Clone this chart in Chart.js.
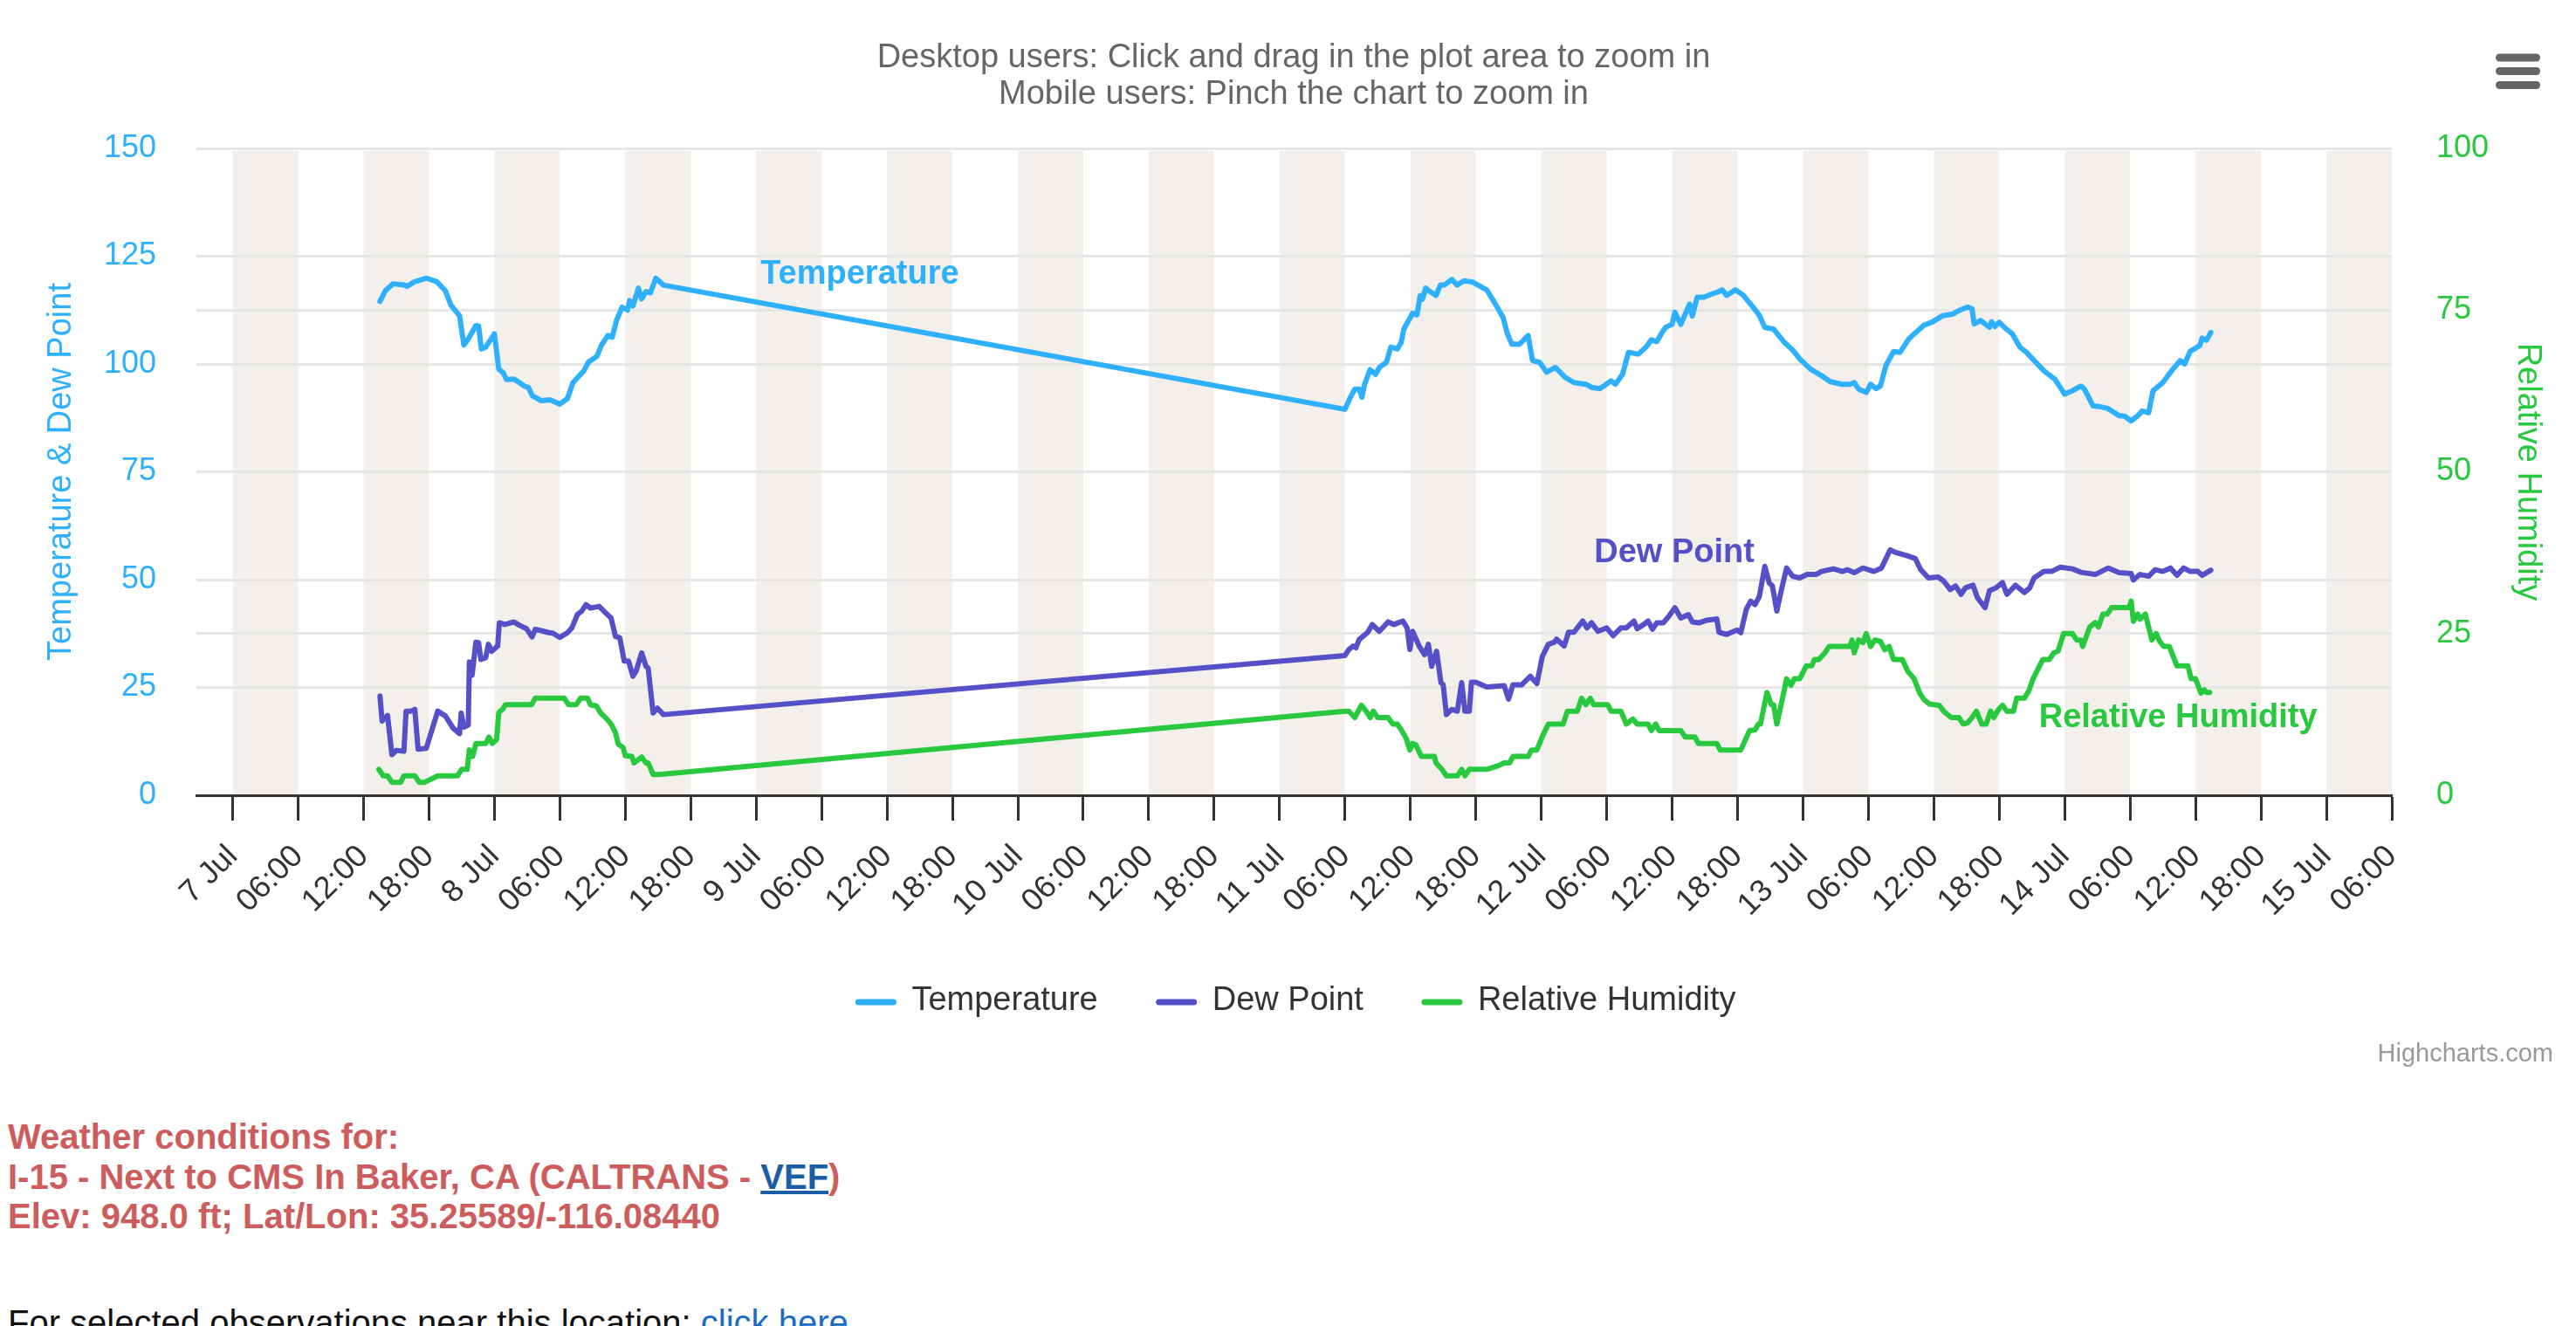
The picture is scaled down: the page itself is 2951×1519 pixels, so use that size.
<!DOCTYPE html>
<html>
<head>
<meta charset="utf-8">
<title>Weather conditions - I-15 Baker, CA</title>
<script src="https://cdn.jsdelivr.net/npm/chart.js@4.4.1/dist/chart.umd.min.js"></script>
<style>
  html, body { margin: 0; padding: 0; background: #fff; overflow: hidden; }
  body { width: 2951px; height: 1519px; position: relative; font-family: "Liberation Sans", Arial, Helvetica, sans-serif; }
  #chart-wrap { position: absolute; left: 0; top: 0; width: 2951px; height: 1250px; }
  .station { position: absolute; left: 9px; top: 1280px; font-size: 40px; line-height: 45.5px; font-weight: bold; color: #cd5c5c; white-space: nowrap; }
  .station a { color: #1a5ea8; text-decoration: underline; }
  .nearby { position: absolute; left: 9px; top: 1493px; font-size: 40px; line-height: 45.5px; color: #111; white-space: nowrap; }
  .nearby a { color: #1a6cc8; text-decoration: none; }
</style>
</head>
<body>
<div id="chart-wrap"><canvas id="weatherChart" width="2951" height="1250"></canvas></div>
<div class="station">Weather conditions for:<br>I-15 - Next to CMS In Baker, CA (CALTRANS - <a href="#">VEF</a>)<br>Elev: 948.0 ft; Lat/Lon: 35.25589/-116.08440</div>
<div class="nearby">For selected observations near this location: <a href="#">click here</a></div>
<script>
// x values are hours counted from 7 Jul 00:00

// Temperature (left axis)
const tempHours = [
  13.5, 14.0, 14.7, 15.75, 16.0, 16.6, 17.75, 18.7, 19.5, 20.0,
  20.8, 21.2, 21.6, 22.3, 22.55, 22.8, 23.2, 24.0, 24.4, 24.8,
  25.1, 25.8, 26.8, 27.1, 27.5, 28.3, 29.1, 30.0, 30.7, 31.2,
  32.2, 32.6, 33.4, 33.8, 34.4, 34.8, 35.2, 35.7, 36.2, 36.4,
  36.7, 37.2, 37.5, 37.9, 38.3, 38.8, 39.5, 102.0, 102.5, 102.9,
  103.3, 103.55, 103.8, 104.3, 104.8, 105.15, 105.8, 106.2, 106.8, 107.15,
  107.4, 108.2, 108.6, 108.9, 109.1, 109.4, 109.8, 110.35, 110.75, 111.1,
  111.8, 112.3, 112.9, 113.7, 114.2, 115.0, 115.7, 116.5, 116.9, 117.3,
  118.0, 118.8, 119.2, 119.85, 120.5, 121.3, 122.2, 123.0, 124.1, 124.6,
  125.4, 126.4, 126.8, 127.45, 128.0, 128.9, 129.6, 130.1, 130.6, 131.0,
  131.4, 132.0, 132.25, 132.8, 133.6, 133.85, 134.3, 134.9, 135.6, 136.1,
  136.6, 137.0, 137.8, 138.5, 139.3, 140.0, 140.5, 141.3, 142.3, 143.1,
  143.7, 144.7, 145.7, 146.5, 147.6, 148.3, 148.7, 149.1, 149.8, 150.2,
  150.7, 151.1, 151.6, 152.3, 152.9, 153.7, 154.2, 155.1, 155.9, 156.8,
  157.75, 158.3, 159.1, 159.5, 159.7, 160.3, 161.1, 161.3, 161.6, 162.0,
  162.55, 163.2, 163.9, 164.5, 165.2, 166.1, 167.1, 168.0, 168.7, 169.5,
  169.8, 170.6, 171.05, 171.95, 173.0, 173.5, 174.1, 174.7, 175.1, 175.7,
  176.1, 177.0, 177.8, 178.6, 179.0, 179.5, 180.4, 180.6, 181.0, 181.4
];
const tempValues = [
  114.5, 117.0, 118.6, 118.3, 118.0, 119.0, 119.9, 119.1, 117.0, 113.7,
  111.2, 104.4, 105.8, 108.9, 108.8, 103.5, 103.9, 107.0, 98.8, 98.0,
  96.4, 96.5, 94.8, 94.6, 92.6, 91.5, 91.7, 90.7, 92.0, 95.7,
  98.4, 100.4, 101.8, 104.3, 106.6, 106.2, 110.1, 113.2, 112.5, 114.7,
  113.5, 117.6, 115.1, 116.8, 116.5, 119.9, 118.3, 89.5, 92.3, 94.2,
  94.2, 92.3, 95.3, 98.7, 97.6, 99.2, 100.4, 103.9, 103.5, 105.0,
  108.1, 111.8, 111.4, 115.9, 115.0, 117.6, 116.8, 115.9, 118.3, 118.3,
  119.6, 118.3, 119.3, 119.0, 118.3, 117.2, 114.3, 110.8, 107.0, 104.6,
  104.6, 106.6, 100.8, 100.4, 98.1, 99.2, 96.9, 95.7, 95.3, 94.6,
  94.3, 96.1, 95.3, 97.6, 102.7, 102.3, 103.9, 105.6, 105.2, 107.0,
  108.5, 109.2, 112.0, 109.2, 113.9, 111.1, 115.5, 115.5, 116.2, 116.6,
  117.2, 115.9, 117.2, 116.0, 113.6, 111.3, 108.5, 108.1, 105.0, 103.1,
  101.2, 98.8, 97.3, 95.9, 95.3, 95.3, 95.7, 94.2, 93.4, 95.3,
  94.3, 94.9, 99.6, 102.9, 102.7, 105.8, 107.0, 109.0, 109.8, 111.2,
  111.6, 112.4, 113.2, 112.8, 109.3, 110.1, 108.5, 109.8, 108.7, 109.7,
  108.3, 107.0, 103.9, 102.7, 100.8, 98.4, 96.5, 93.0, 93.8, 94.9,
  94.2, 90.3, 90.2, 89.7, 88.0, 87.9, 86.8, 88.0, 89.1, 88.7,
  93.8, 95.7, 98.4, 100.8, 100.0, 102.9, 104.3, 106.0, 105.5, 107.3
];

// Dew point (left axis)
const dewHours = [
  13.5, 13.7, 14.2, 14.6, 15.0, 15.7, 15.9, 16.3, 16.7, 17.0,
  17.75, 18.8, 19.5, 20.2, 20.8, 20.95, 21.2, 21.6, 21.7, 21.95,
  22.3, 22.55, 22.75, 23.2, 23.45, 23.75, 24.3, 24.45, 24.95, 25.8,
  26.3, 26.95, 27.45, 27.75, 28.4, 29.0, 29.35, 30.0, 30.7, 31.1,
  31.6, 32.0, 32.4, 32.8, 33.6, 34.2, 34.7, 35.1, 35.5, 35.9,
  36.3, 36.7, 37.0, 37.5, 37.9, 38.1, 38.55, 38.95, 39.5, 102.0,
  102.35, 102.75, 103.0, 103.3, 104.1, 104.5, 105.15, 105.95, 106.5, 106.9,
  107.3, 107.7, 107.95, 108.2, 108.8, 109.3, 109.65, 109.95, 110.4, 110.8,
  111.0, 111.3, 111.8, 112.3, 112.7, 113.0, 113.4, 113.6, 114.0, 115.0,
  116.6, 117.0, 117.4, 118.2, 119.0, 119.6, 120.1, 120.65, 121.2, 121.4,
  122.1, 122.5, 123.0, 123.8, 124.2, 124.6, 125.2, 126.0, 126.6, 127.3,
  127.8, 128.5, 128.8, 129.4, 129.8, 130.2, 130.6, 131.2, 131.7, 132.25,
  132.8, 133.5, 133.85, 134.5, 135.2, 136.1, 136.3, 137.0, 137.95, 138.3,
  138.8, 139.2, 139.6, 140.0, 140.5, 140.9, 141.2, 141.6, 142.0, 142.5,
  143.05, 143.7, 144.4, 145.2, 145.7, 146.8, 147.6, 148.1, 148.7, 149.5,
  150.5, 151.2, 152.0, 152.5, 153.5, 154.3, 154.8, 155.5, 156.4, 156.9,
  157.5, 158.0, 158.5, 158.9, 159.6, 160.0, 160.7, 161.1, 161.7, 162.3,
  162.7, 163.5, 164.3, 164.8, 165.2, 166.1, 166.8, 167.6, 168.7, 169.5,
  170.8, 172.0, 173.0, 174.1, 174.3, 174.9, 175.7, 176.3, 177.0, 177.7,
  178.3, 178.9, 179.5, 180.2, 180.6, 181.0, 181.4
];
const dewValues = [
  23.0, 17.2, 18.5, 9.4, 10.4, 10.2, 19.5, 19.5, 19.9, 10.7,
  10.9, 19.5, 18.4, 15.6, 14.3, 19.1, 15.8, 16.3, 30.9, 27.8,
  35.5, 35.4, 31.5, 31.9, 35.0, 33.4, 34.6, 40.0, 39.6, 40.2,
  39.4, 38.6, 36.7, 38.5, 38.1, 37.7, 37.6, 36.6, 37.7, 38.8,
  41.9, 42.7, 44.2, 43.4, 43.8, 42.3, 41.1, 36.8, 36.5, 31.1,
  31.1, 27.6, 28.8, 33.0, 29.9, 29.5, 19.1, 20.2, 18.7, 32.4,
  33.8, 34.6, 34.2, 36.1, 37.8, 39.6, 38.0, 40.2, 39.6, 40.0,
  40.4, 38.8, 33.8, 38.0, 34.6, 32.6, 35.0, 29.9, 33.4, 26.1,
  25.7, 18.7, 19.9, 19.5, 26.1, 19.5, 19.5, 26.2, 26.2, 25.1,
  25.4, 22.3, 25.6, 25.6, 27.6, 25.9, 32.2, 35.0, 35.5, 36.2,
  34.6, 37.8, 37.8, 40.4, 38.8, 40.0, 38.0, 38.8, 37.0, 38.8,
  38.8, 40.4, 38.6, 39.6, 40.4, 38.5, 40.0, 40.0, 41.5, 43.5,
  41.1, 41.9, 40.2, 40.0, 40.6, 40.9, 37.8, 37.3, 38.3, 37.7,
  43.1, 45.0, 44.2, 46.1, 53.1, 49.3, 48.5, 42.7, 47.4, 52.7,
  50.8, 50.4, 51.2, 51.2, 51.9, 52.5, 51.9, 52.3, 51.6, 52.7,
  51.9, 52.7, 56.9, 56.3, 55.6, 54.9, 52.3, 50.4, 50.6, 49.7,
  47.7, 48.5, 46.6, 48.1, 48.7, 45.8, 43.5, 47.4, 48.1, 49.3,
  46.6, 48.7, 47.0, 48.1, 50.4, 51.9, 51.9, 52.9, 52.5, 51.7,
  51.2, 52.7, 51.6, 51.4, 49.9, 51.2, 50.8, 52.3, 51.9, 52.7,
  51.0, 52.7, 51.9, 51.9, 51.0, 51.6, 52.2
];

// Relative humidity (right axis)
const rhHours = [
  13.4, 13.8, 14.2, 14.6, 15.4, 15.7, 16.7, 17.1, 17.6, 18.8,
  20.6, 21.0, 21.5, 21.7, 22.0, 22.3, 23.2, 23.5, 23.8, 24.2,
  24.4, 24.8, 25.0, 27.4, 27.75, 30.4, 30.8, 31.5, 31.9, 32.55,
  32.8, 33.35, 33.75, 34.3, 34.7, 35.1, 35.35, 35.8, 36.0, 36.6,
  36.8, 37.5, 37.9, 38.1, 38.55, 39.1, 102.0, 102.35, 102.9, 103.5,
  103.95, 104.3, 104.6, 105.0, 105.95, 106.4, 106.8, 107.2, 107.6, 107.95,
  108.2, 108.5, 109.0, 110.2, 110.35, 110.9, 111.3, 112.3, 112.7, 113.0,
  113.4, 115.0, 115.95, 116.6, 117.1, 117.4, 118.8, 119.1, 119.6, 120.1,
  120.65, 122.0, 122.4, 123.3, 123.7, 124.1, 124.5, 124.8, 126.1, 126.4,
  127.3, 127.8, 128.4, 128.8, 129.8, 130.1, 130.5, 130.8, 132.8, 133.2,
  134.1, 134.4, 136.1, 136.4, 138.3, 139.1, 139.6, 139.9, 140.1, 140.7,
  141.1, 141.3, 141.6, 142.1, 142.5, 142.9, 143.2, 143.7, 144.3, 144.8,
  145.05, 145.45, 146.0, 146.4, 148.3, 148.5, 148.7, 149.1, 149.5, 149.8,
  150.2, 150.6, 151.1, 151.5, 151.9, 152.3, 153.1, 153.6, 154.2, 154.7,
  155.1, 155.6, 156.5, 156.9, 157.6, 158.3, 158.7, 159.1, 159.5, 159.9,
  160.4, 160.8, 161.2, 161.5, 161.9, 162.3, 162.7, 163.3, 163.6, 164.3,
  164.7, 165.1, 166.0, 166.6, 167.0, 167.4, 167.9, 168.7, 169.1, 169.5,
  169.65, 170.3, 170.8, 171.1, 171.5, 171.9, 172.3, 173.9, 174.1, 174.3,
  174.7, 174.9, 175.4, 176.0, 176.4, 176.7, 177.1, 177.6, 178.3, 179.3,
  179.6, 180.0, 180.5, 180.8, 181.0, 181.3
];
const rhValues = [
  4, 3, 3, 2, 2, 3, 3, 2, 2, 3,
  3, 4, 4, 7, 6, 8, 8, 9, 8, 8.6,
  12.8, 13.4, 14, 14, 15, 15, 14, 14, 15, 15,
  14, 13.8, 12.7, 11.8, 11, 9.7, 7.9, 7.4, 6.1, 6,
  5, 5.9, 5, 5, 3.2, 3.2, 13, 13, 12, 13.9,
  13, 12, 13, 12, 12, 11, 11, 10, 8.85, 7,
  8, 7.8, 6, 6, 5, 4, 3, 3, 4, 3,
  4, 4, 4.5, 5, 5, 6, 6, 7, 7, 9.1,
  11, 11, 13, 13, 15, 14, 15, 14, 14, 13,
  13, 11, 11.8, 11, 11, 10, 11, 10, 10, 9,
  9, 8, 8, 7, 7, 10, 10.1, 11, 11, 15.9,
  14, 14, 11, 14.8, 18, 17, 18, 18, 20, 20,
  21, 21, 22, 23, 23, 24, 22, 24, 23.6, 25,
  23, 24, 23.8, 22.5, 23, 21, 21, 19.2, 18, 15.8,
  14.8, 14.1, 13.9, 13, 12, 12, 11, 11.2, 12, 13,
  11, 11, 13, 12, 13.2, 13.9, 13, 13, 15, 15,
  16.1, 18, 21, 21, 22, 22.3, 25, 25, 24, 24,
  23, 26, 26.7, 26, 28, 28, 29, 29, 30, 26.9,
  28, 27.2, 28, 24, 25, 23.8, 23, 23, 20, 20,
  18, 18, 15.8, 16.3, 15.9, 15.9
];

// Axis ticks: one x label every 6 hours from 7 Jul 00:00 to 15 Jul 06:00
const xTickLabels = [
  '7 Jul', '06:00', '12:00', '18:00', '8 Jul', '06:00', '12:00', '18:00',
  '9 Jul', '06:00', '12:00', '18:00', '10 Jul', '06:00', '12:00', '18:00',
  '11 Jul', '06:00', '12:00', '18:00', '12 Jul', '06:00', '12:00', '18:00',
  '13 Jul', '06:00', '12:00', '18:00', '14 Jul', '06:00', '12:00', '18:00',
  '15 Jul', '06:00'
];
const leftTicks = [0, 25, 50, 75, 100, 125, 150];
const rightTicks = [0, 25, 50, 75, 100];

const COLORS = {
  temp: '#2fb0fd',
  dew: '#5450c8',
  rh: '#28c83f',
  grid: '#e6e6e6',
  axis: '#333333',
  band: '#f3f0ec'
};
const FONT = '"Liberation Sans", Arial, Helvetica, sans-serif';
const CANVAS_W = 2951, CANVAS_H = 1250;
const PLOT = { left: 225, right: 2740, top: 170, bottom: 911 };
const X_MIN = -3.33, X_MAX = 198;

Chart.defaults.font.family = FONT;

function toPoints(hours, values) {
  return hours.map((h, i) => ({ x: h, y: values[i] }));
}

function makeSeries(label, hours, values, color, axis) {
  return {
    label,
    data: toPoints(hours, values),
    yAxisID: axis,
    borderColor: color,
    backgroundColor: color,
    borderWidth: 6,
    pointRadius: 0,
    pointHoverRadius: 0,
    tension: 0,
    fill: false,
    borderJoinStyle: 'round',
    borderCapStyle: 'round'
  };
}

// Night/day shading every 12h, 6h wide, under the grid
function drawBands(chart) {
  const { ctx, chartArea: area, scales: { x } } = chart;
  ctx.save();
  ctx.fillStyle = COLORS.band;
  for (let h = 0; h < X_MAX; h += 12) {
    const x0 = x.getPixelForValue(h);
    const x1 = x.getPixelForValue(Math.min(h + 6, X_MAX));
    ctx.fillRect(x0, area.top + 3, x1 - x0, area.bottom - area.top - 3);
  }
  ctx.restore();
}

function drawSeriesLabels(chart, labels) {
  const { ctx, scales } = chart;
  ctx.save();
  ctx.font = `bold 38px ${FONT}`;
  ctx.textAlign = 'center';
  ctx.textBaseline = 'alphabetic';
  labels.forEach(l => {
    ctx.fillStyle = l.color;
    ctx.fillText(l.text, scales.x.getPixelForValue(l.x), scales[l.axis].getPixelForValue(l.y));
  });
  ctx.restore();
}

function drawSubtitle(chart) {
  const { ctx } = chart;
  ctx.save();
  ctx.font = `38px ${FONT}`;
  ctx.fillStyle = '#666666';
  ctx.textAlign = 'center';
  ctx.fillText('Desktop users: Click and drag in the plot area to zoom in', 1482, 77);
  ctx.fillText('Mobile users: Pinch the chart to zoom in', 1482, 119);
  ctx.restore();
}

function drawMenuIcon(chart) {
  const { ctx } = chart;
  ctx.save();
  ctx.strokeStyle = '#666666';
  ctx.lineWidth = 9;
  ctx.lineCap = 'round';
  [66, 81.5, 97.5].forEach(y => {
    ctx.beginPath();
    ctx.moveTo(2863.5, y);
    ctx.lineTo(2905.5, y);
    ctx.stroke();
  });
  ctx.restore();
}

function drawLegend(chart) {
  const { ctx } = chart;
  const symbolW = 48, textGap = 17, itemGap = 66, baseline = 1157, centerX = 1484;
  ctx.save();
  ctx.font = `38px ${FONT}`;
  const widths = chart.data.datasets.map(ds => ctx.measureText(ds.label).width);
  const total = widths.reduce((s, w) => s + symbolW + textGap + w, 0) + itemGap * (widths.length - 1);
  let x = centerX - total / 2;
  chart.data.datasets.forEach((ds, i) => {
    ctx.strokeStyle = ds.borderColor;
    ctx.lineWidth = 7;
    ctx.lineCap = 'round';
    ctx.beginPath();
    ctx.moveTo(x + 4, baseline - 9);
    ctx.lineTo(x + symbolW - 4, baseline - 9);
    ctx.stroke();
    ctx.fillStyle = '#333333';
    ctx.textAlign = 'left';
    ctx.textBaseline = 'alphabetic';
    ctx.fillText(ds.label, x + symbolW + textGap, baseline);
    x += symbolW + textGap + widths[i] + itemGap;
  });
  ctx.restore();
}

function drawCredits(chart) {
  const { ctx } = chart;
  ctx.save();
  ctx.font = `29px ${FONT}`;
  ctx.fillStyle = '#999999';
  ctx.textAlign = 'right';
  ctx.fillText('Highcharts.com', 2925, 1216);
  ctx.restore();
}

const decorations = {
  id: 'decorations',
  beforeDraw: chart => drawBands(chart),
  afterDatasetsDraw: (chart, args, opts) => drawSeriesLabels(chart, opts.labels),
  afterDraw: chart => {
    drawSubtitle(chart);
    drawMenuIcon(chart);
    drawLegend(chart);
    drawCredits(chart);
  }
};

new Chart(document.getElementById('weatherChart').getContext('2d'), {
  type: 'line',
  data: {
    datasets: [
      makeSeries('Temperature', tempHours, tempValues, COLORS.temp, 'y'),
      makeSeries('Dew Point', dewHours, dewValues, COLORS.dew, 'y'),
      makeSeries('Relative Humidity', rhHours, rhValues, COLORS.rh, 'y1')
    ]
  },
  options: {
    responsive: false,
    devicePixelRatio: 1,
    animation: false,
    layout: { padding: { top: PLOT.top, left: 0, right: 0, bottom: 0 } },
    plugins: {
      legend: { display: false },
      tooltip: { enabled: false },
      decorations: {
        labels: [
          { text: 'Temperature', x: 57.5, y: 118.55, axis: 'y', color: COLORS.temp },
          { text: 'Dew Point', x: 132.2, y: 54.0, axis: 'y', color: COLORS.dew },
          { text: 'Relative Humidity', x: 178.4, y: 10.5, axis: 'y1', color: COLORS.rh }
        ]
      }
    },
    scales: {
      x: {
        type: 'linear',
        min: X_MIN,
        max: X_MAX,
        afterBuildTicks: s => { s.ticks = xTickLabels.map((_, i) => ({ value: i * 6 })); },
        afterFit: s => { s.height = CANVAS_H - PLOT.bottom; },
        ticks: {
          autoSkip: false,
          minRotation: 45,
          maxRotation: 45,
          padding: 20,
          color: COLORS.axis,
          font: { size: 36 },
          callback: value => xTickLabels[Math.round(value / 6)]
        },
        grid: { drawOnChartArea: false, drawTicks: true, tickLength: 29, tickColor: COLORS.axis, tickWidth: 3 },
        border: { display: true, color: COLORS.axis, width: 3 }
      },
      y: {
        type: 'linear',
        position: 'left',
        min: 0,
        max: 150,
        afterBuildTicks: s => { s.ticks = leftTicks.map(v => ({ value: v })); },
        afterFit: s => { s.width = PLOT.left; },
        ticks: { color: COLORS.temp, font: { size: 36 }, padding: 46 },
        grid: { color: COLORS.grid, lineWidth: 3, drawTicks: false },
        border: { display: false },
        title: { display: true, text: 'Temperature & Dew Point', color: COLORS.temp, font: { size: 38 }, padding: { top: 48, bottom: 0 } }
      },
      y1: {
        type: 'linear',
        position: 'right',
        min: 0,
        max: 100,
        afterBuildTicks: s => { s.ticks = rightTicks.map(v => ({ value: v })); },
        afterFit: s => { s.width = CANVAS_W - PLOT.right; },
        ticks: { color: COLORS.rh, font: { size: 36 }, padding: 51 },
        grid: { color: COLORS.grid, lineWidth: 3, drawTicks: false },
        border: { display: false },
        title: { display: true, text: 'Relative Humidity', color: COLORS.rh, font: { size: 38 }, padding: { top: 33, bottom: 0 } }
      }
    }
  },
  plugins: [decorations]
});
</script>
</body>
</html>
